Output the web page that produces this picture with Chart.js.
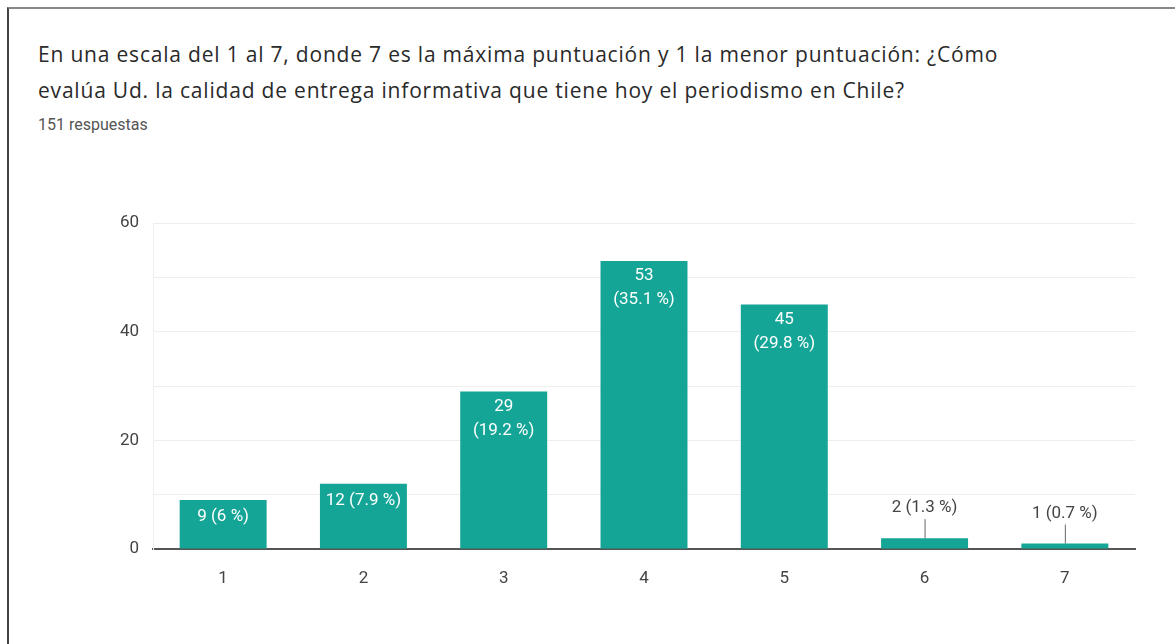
<!DOCTYPE html>
<html>
<head>
<meta charset="utf-8">
<script src="https://cdn.jsdelivr.net/npm/chart.js@4/dist/chart.umd.min.js"></script>
<style>
  html, body { margin: 0; padding: 0; background: #fff; }
  body { width: 1175px; height: 644px; position: relative; overflow: hidden; font-family: Roboto, "Noto Sans", sans-serif; }
  #frame { position: absolute; left: 7px; top: 7px; width: 1170px; height: 640px; border-left: 2px solid #444; border-top: 2px solid #888; box-sizing: border-box; }
  .t { position: absolute; left: 38px; color: #2a2a2a; font-family: "Open Sans", sans-serif; font-size: 21px; letter-spacing: 0.8px; line-height: 36px; white-space: nowrap; }
  #sub { position: absolute; left: 38px; top: 115px; color: #555; font-size: 16px; }
  #wrap { position: absolute; left: 0; top: 0; width: 1175px; height: 644px; }
</style>
</head>
<body>
<div id="frame"></div>
<div class="t" style="top:36px">En una escala del 1 al 7, donde 7 es la máxima puntuación y 1 la menor puntuación: ¿Cómo</div>
<div class="t" style="top:72px">evalúa Ud. la calidad de entrega informativa que tiene hoy el periodismo en Chile?</div>
<div id="sub">151 respuestas</div>
<div id="wrap"><canvas id="c" width="1175" height="644"></canvas></div>
<script>
const categories = ['1', '2', '3', '4', '5', '6', '7'];
const counts = [9, 12, 29, 53, 45, 2, 1];
const percents = ['6', '7.9', '19.2', '35.1', '29.8', '1.3', '0.7'];
const yLabelTicks = [0, 20, 40, 60];

const labelPlugin = {
  id: 'barLabels',
  afterDatasetsDraw(chart) {
    const ctx = chart.ctx;
    const meta = chart.getDatasetMeta(0);
    ctx.save();
    ctx.font = '17px Roboto, "Noto Sans", sans-serif';
    ctx.textAlign = 'center';
    ctx.textBaseline = 'middle';
    meta.data.forEach((bar, i) => {
      const h = bar.base - bar.y;
      const num = String(counts[i]);
      const pct = '(' + percents[i] + ' %)';
      if (h > 100) {
        ctx.fillStyle = '#ffffff';
        ctx.fillText(num, bar.x, bar.y + 15);
        ctx.fillText(pct, bar.x, bar.y + 39);
      } else if (h > 25) {
        ctx.fillStyle = '#ffffff';
        ctx.fillText(num + ' ' + pct, bar.x, bar.y + 17);
      } else {
        ctx.fillStyle = '#444';
        ctx.fillText(num + ' ' + pct, bar.x, bar.y - 30);
        ctx.strokeStyle = '#666';
        ctx.lineWidth = 1;
        ctx.beginPath();
        ctx.moveTo(bar.x + 0.5, bar.y - 19);
        ctx.lineTo(bar.x + 0.5, bar.y);
        ctx.stroke();
      }
    });
    ctx.restore();
  }
};

new Chart(document.getElementById('c'), {
  type: 'bar',
  data: {
    labels: categories,
    datasets: [{
      data: counts,
      backgroundColor: '#14a596',
      borderWidth: 0,
      barPercentage: 0.62,
      categoryPercentage: 1
    }]
  },
  options: {
    responsive: false,
    animation: false,
    events: [],
    layout: { padding: { top: 223, right: 40, bottom: 0, left: 0 } },
    plugins: { legend: { display: false }, tooltip: { enabled: false } },
    scales: {
      x: {
        grid: { display: false },
        border: { display: true, color: '#555', width: 2 },
        ticks: { color: '#444', font: { size: 17, family: 'Roboto' }, padding: 12 },
        afterFit(scale) { scale.height = 95; }
      },
      y: {
        min: 0, max: 60,
        ticks: {
          stepSize: 10,
          color: '#444',
          font: { size: 17, family: 'Roboto' },
          padding: 14,
          callback: (v) => yLabelTicks.includes(v) ? String(v) : ''
        },
        grid: {
          color: '#eeeeee',
          lineWidth: 1,
          drawTicks: false
        },
        border: { display: true, color: '#eeeeee', width: 1 },
        afterFit(scale) { scale.width = 153; }
      }
    }
  },
  plugins: [labelPlugin]
});
</script>
</body>
</html>
